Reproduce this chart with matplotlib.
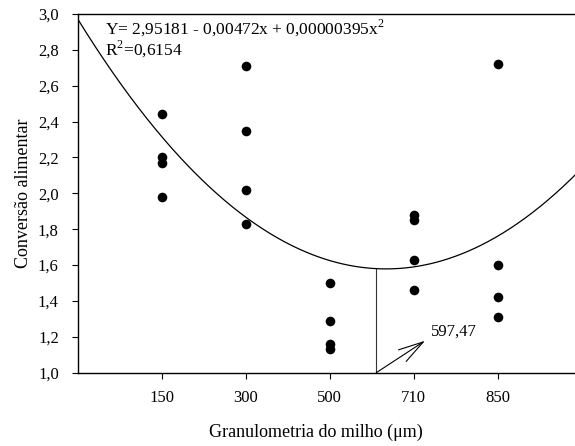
import matplotlib
matplotlib.use("Agg")
import matplotlib.pyplot as plt
import numpy as np

plt.rcParams['font.family'] = ['Liberation Serif', 'DejaVu Serif']
plt.rcParams['mathtext.fontset'] = 'custom'
plt.rcParams['mathtext.rm'] = 'Liberation Serif'

# granulometria (categorias) e conversao alimentar (4 repeticoes)
granulometria = ['150', '300', '500', '710', '850']
conv_150 = [2.44, 2.20, 2.17, 1.98]
conv_300 = [2.71, 2.35, 2.02, 1.83]
conv_500 = [1.50, 1.29, 1.16, 1.13]
conv_710 = [1.88, 1.85, 1.63, 1.46]
conv_850 = [2.72, 1.60, 1.42, 1.31]
x_min = 597.47
equacao = "Y= 2,95181 - 0,00472x + 0,00000395x$^\\mathrm{2}$"
r2 = "R$^\\mathrm{2}$=0,6154"

series = [conv_150, conv_300, conv_500, conv_710, conv_850]
passo = 168.0
pos = np.arange(1, len(granulometria) + 1) * passo

xs = np.concatenate([[p] * len(s) for p, s in zip(pos, series)])
ys = np.concatenate(series)

fig = plt.figure(figsize=(5.75, 4.46), dpi=100)
ax = fig.add_axes([0.1348, 0.1643, 0.8652, 0.8043])

ax.scatter(xs, ys, s=48, color='black', zorder=3, linewidths=0)

# curva de regressao quadratica ajustada aos pontos
coef = np.polyfit(xs, ys, 2)
xc = np.linspace(0, 995, 400)
ax.plot(xc, np.polyval(coef, xc), color='black', lw=0.9)

ax.plot([x_min, x_min], [1.0, np.polyval(coef, x_min)], color='#333333', lw=0.8)
ax.annotate('', xy=(695, 1.178), xytext=(x_min, 1.0),
            arrowprops=dict(arrowstyle='->, head_length=1.8, head_width=0.5',
                            mutation_scale=10, lw=0.8, color='black',
                            shrinkA=0, shrinkB=0),
            annotation_clip=False)
ax.text(707, 1.227, '597,47', fontsize=12, va='center', ha='left')

ax.text(0.055, 0.96, equacao, transform=ax.transAxes, fontsize=12.5,
        va='center', ha='left')
ax.text(0.055, 0.9, r2, transform=ax.transAxes, fontsize=12.5,
        va='center', ha='left')

ax.set_xlim(0, 995)
ax.set_ylim(1.0, 3.0)
ax.set_xticks(pos)
ax.set_xticklabels(granulometria)
yt = np.arange(1.0, 3.01, 0.2)
ax.set_yticks(yt)
ax.set_yticklabels([f"{v:.1f}".replace('.', ',') for v in yt])
ax.tick_params(direction='out', length=4.5, width=0.8, labelsize=12)
ax.tick_params(axis='x', pad=8)
ax.tick_params(axis='y', pad=9)

for s in ax.spines.values():
    s.set_linewidth(1.0)
ax.spines['right'].set_visible(False)

ax.set_xlabel('Granulometria do milho (μm)', fontsize=13)
ax.set_ylabel('Conversão alimentar', fontsize=13)
ax.xaxis.set_label_coords(0.48, -0.165)
ax.xaxis.label.set_va('center')
ax.yaxis.set_label_coords(-0.108, 0.5)
ax.yaxis.label.set_va('center')

fig.savefig('out.png', dpi=100)
